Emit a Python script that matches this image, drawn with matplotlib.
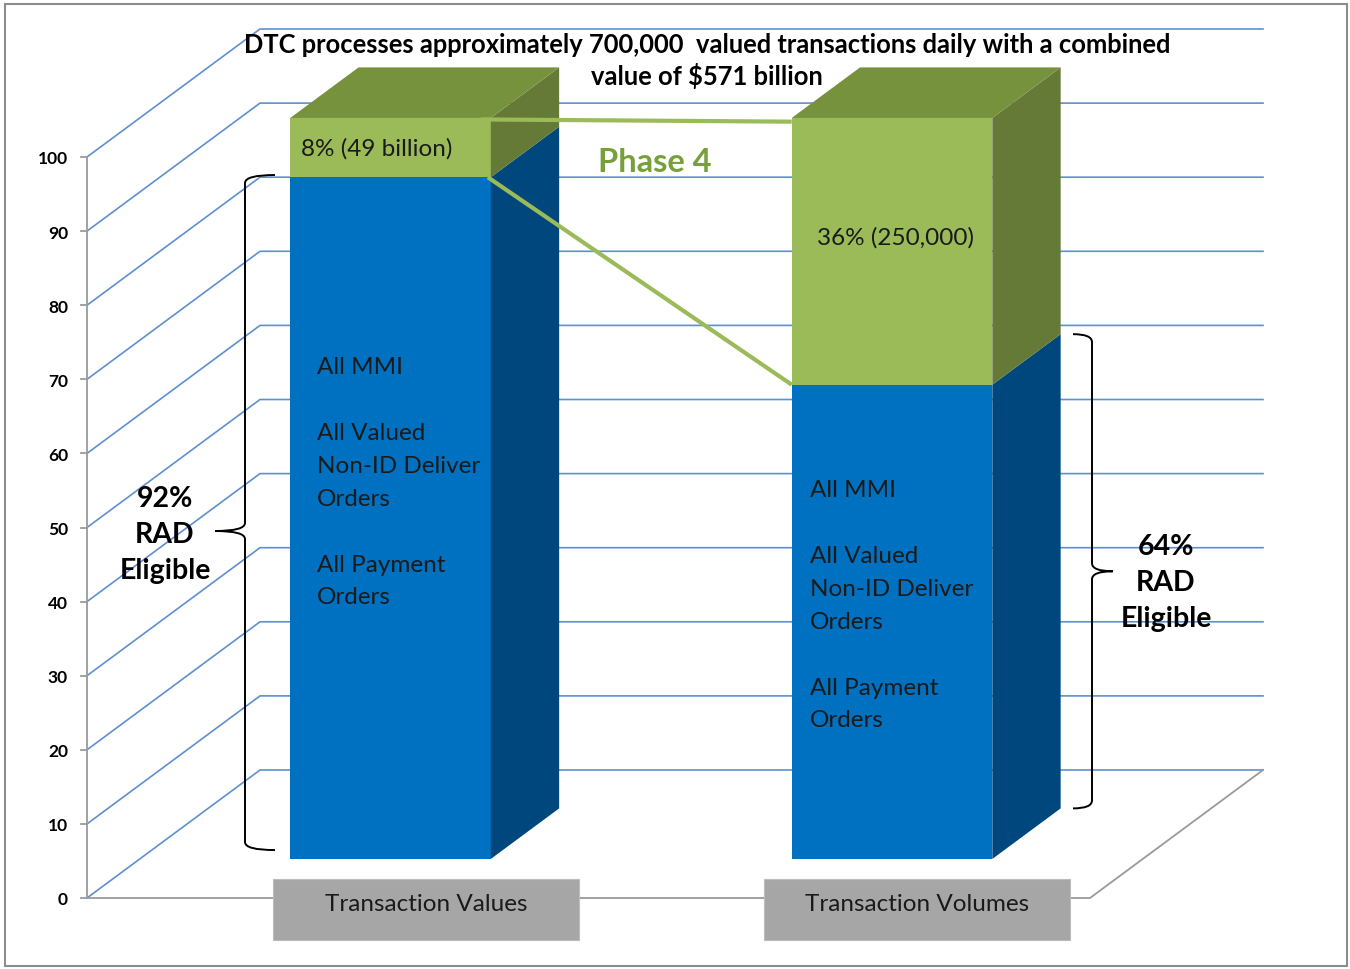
import matplotlib
matplotlib.use('Agg')
import matplotlib.pyplot as plt
from matplotlib.patches import Polygon, Rectangle, PathPatch
from matplotlib.path import Path

plt.rcParams['font.family'] = ['Lato', 'DejaVu Sans']

# data
categories = ['Transaction Values', 'Transaction Volumes']
rad_eligible = [92, 64]      # blue, bottom segment
phase4 = [8, 36]             # green, top segment
phase4_labels = ['8% (49 billion)', '36% (250,000)']
rad_labels = ['92%\nRAD\nEligible', '64%\nRAD\nEligible']
bar_text = 'All MMI\n\nAll Valued\nNon-ID Deliver\nOrders\n\nAll Payment\nOrders'
yticks = list(range(0, 101, 10))
title = ('DTC processes approximately 700,000  valued transactions daily with a combined\n'
         'value of $571 billion')

# geometry of the fake 3d box (pixels of a 1350x970 canvas)
W, H = 1350, 970
X0, Y0 = 87, 899          # origin of front plane
PX, PY = 501.5, 7.41      # pixels per category unit / per value unit
DX, DY = 173 / PX, 128 / PY   # full depth offset
F0, F1 = 0.305, 0.70      # bar front / back depth fraction
BW = 0.4                  # bar width
label_shift = [0.176, 0.155]

BLUE, BLUE_SIDE = '#0070C0', '#00477D'
GREEN, GREEN_TOP, GREEN_SIDE = '#9BBB59', '#77923D', '#657A36'
GRID = '#5E8FD0'
AXC = '#9A9A9A'
FS = 17.5


def P(x, y, d=0.0):
    return (x + d * DX, y + d * DY)


fig = plt.figure(figsize=(W / 100, H / 100), dpi=100)
ax = fig.add_axes([0, 0, 1, 1])
ax.set_xlim(-X0 / PX, (W - X0) / PX)
ax.set_ylim((Y0 - H) / PY, Y0 / PY)
ax.axis('off')

# frame round the picture
fig.patches.append(Rectangle((5 / W, 3 / H), 1342 / W, 962 / H, transform=fig.transFigure,
                             fill=False, edgecolor='#8C8C8C', lw=1.5))

# walls / gridlines
for v in yticks:
    pts = [P(0, v), P(0, v, 1), P(2, v, 1)]
    ax.plot([p[0] for p in pts], [p[1] for p in pts], color=GRID, lw=1.2, zorder=1)
fl = [P(0, 0), P(2, 0), P(2, 0, 1)]
ax.plot([p[0] for p in fl], [p[1] for p in fl], color=AXC, lw=1.3, zorder=1)
ax.plot([0, 0], [0, 100], color=AXC, lw=1.3, zorder=1)
for v in yticks:
    ax.plot([-6 / PX, 0], [v, v], color=AXC, lw=1.3, zorder=1)
    ax.text(-19 / PX, v - 0.2, str(v), ha='right', va='center', fontsize=12.5,
            fontweight='bold', color='#000000')


def box(xc, y0, y1, front, side, top=None):
    xl, xr = xc - BW / 2, xc + BW / 2
    ax.add_patch(Polygon([P(xl, y0, F0), P(xr, y0, F0), P(xr, y1, F0), P(xl, y1, F0)],
                         closed=True, fc=front, ec='none', zorder=3))
    ax.add_patch(Polygon([P(xr, y0, F0), P(xr, y0, F1), P(xr, y1, F1), P(xr, y1, F0)],
                         closed=True, fc=side, ec='none', zorder=3))
    if top:
        ax.add_patch(Polygon([P(xl, y1, F0), P(xr, y1, F0), P(xr, y1, F1), P(xl, y1, F1)],
                             closed=True, fc=top, ec='none', zorder=3))


def brace(x, ytop, ybot, hook, cusp, ymid=None):
    if ymid is None:
        ymid = (ytop + ybot) / 2
    ry = 8 / PY
    verts = [(x + hook, ytop), (x, ytop), (x, ytop - ry),
             (x, ymid + ry),
             (x, ymid), (x - cusp, ymid),
             (x, ymid), (x, ymid - ry),
             (x, ybot + ry),
             (x, ybot), (x + hook, ybot)]
    codes = [Path.MOVETO, Path.CURVE3, Path.CURVE3, Path.LINETO,
             Path.CURVE3, Path.CURVE3, Path.CURVE3, Path.CURVE3,
             Path.LINETO, Path.CURVE3, Path.CURVE3]
    ax.add_patch(PathPatch(Path(verts, codes), fill=False, ec='black', lw=1.4, zorder=4))


for i, cat in enumerate(categories):
    xc = i + 0.5
    b, g = rad_eligible[i], phase4[i]
    box(xc, 0, b, BLUE, BLUE_SIDE)
    box(xc, b, b + g, GREEN, GREEN_SIDE, GREEN_TOP)

    # category label box
    cx = xc + label_shift[i]
    ax.add_patch(Rectangle((cx - 0.306, -5.7), 0.612, 8.25, fc='#A6A6A6', ec='#BDBDBD',
                           lw=0.8, zorder=2))
    ax.text(cx, -0.8, cat, ha='center', va='center', fontsize=FS, color='#1A1A1A', zorder=5)

# labels inside bars
fx, fy = P(0.5 - BW / 2, 0, F0)
ax.text(fx + 11 / PX, fy + rad_eligible[0] + phase4[0] / 2, phase4_labels[0],
        ha='left', va='center', fontsize=FS, color='#1A1A1A', zorder=5)
fx, fy = P(1.5, 0, F0)
ax.text(fx + 3 / PX, fy + 84, phase4_labels[1], ha='center', va='center', fontsize=FS,
        color='#1A1A1A', zorder=5)
for i, yc in enumerate([50.9, 34.3]):
    fx, fy = P(i + 0.5 - BW / 2, yc, F0)
    ax.text(fx + 27 / PX - (9 / PX if i else 0), fy, bar_text, ha='left', va='center',
            fontsize=FS, linespacing=1.70, color='#1A1A1A', zorder=5)

# phase 4 connector lines
a = P(0.5 + BW / 2, rad_eligible[0] + phase4[0], F0)
b_ = P(1.5 - BW / 2, rad_eligible[1] + phase4[1], F0)
ax.plot([a[0] - 10 / PX, b_[0]], [a[1] - 0.2, b_[1] - 0.5], color=GREEN, lw=3, zorder=4,
        solid_capstyle='butt')
a = P(0.5 + BW / 2, rad_eligible[0], F0)
b_ = P(1.5 - BW / 2, rad_eligible[1], F0)
ax.plot([a[0] - 3 / PX, b_[0]], [a[1], b_[1]], color=GREEN, lw=3, zorder=4,
        solid_capstyle='butt')
ax.text(655 / PX - X0 / PX, (Y0 - 162) / PY, 'Phase 4', ha='center', va='center',
        fontsize=23.5, fontweight='bold', color='#77A03A', zorder=5)

# braces and RAD labels
x_l = (245 - X0) / PX
top = P(0, rad_eligible[0], F0)[1]
bot = P(0, 0, F0)[1]
brace(x_l, top + 0.3, bot + 1.2, 30 / PX, 30 / PX, ymid=(Y0 - 532) / PY)
ax.text((165 - X0) / PX, (Y0 - 535) / PY, rad_labels[0], ha='center', va='center',
        fontsize=20.5, fontweight='bold', linespacing=1.48, color='black', zorder=5)

x_r = (1092 - X0) / PX
top = P(0, rad_eligible[1], F1)[1]
bot = P(0, 0, F1)[1]
brace(x_r, top, bot, -19 / PX, -21 / PX)
ax.text((1166 - X0) / PX, (Y0 - 583) / PY, rad_labels[1], ha='center', va='center',
        fontsize=20.5, fontweight='bold', linespacing=1.48, color='black', zorder=5)

# title
ax.text((707 - X0) / PX, (Y0 - 61) / PY, title, ha='center', va='center', fontsize=18.4,
        fontweight='bold', linespacing=1.3, color='black', zorder=5)

fig.savefig('out.png', dpi=100)
